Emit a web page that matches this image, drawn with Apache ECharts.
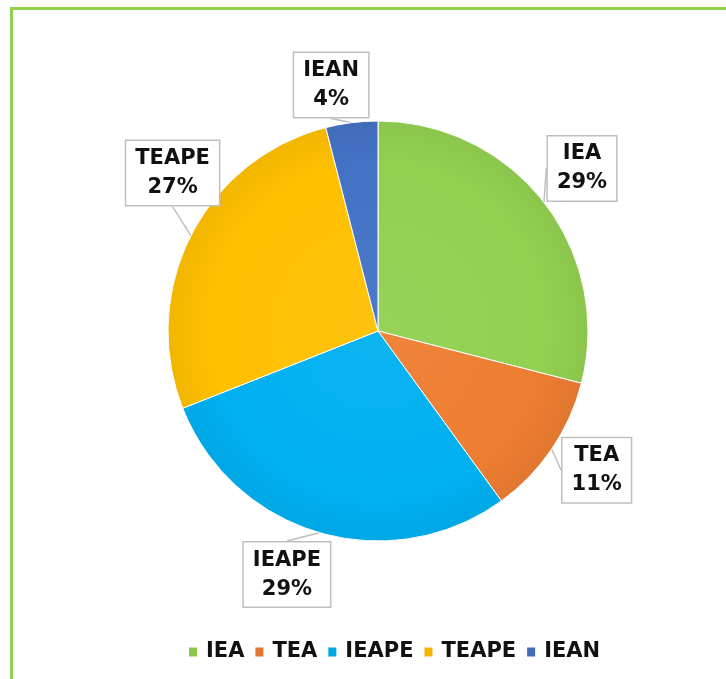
<!DOCTYPE html>
<html>
<head>
<meta charset="utf-8">
<script src="https://cdn.jsdelivr.net/npm/echarts@6/dist/echarts.min.js"></script>
<style>
html,body{margin:0;padding:0;background:#fff;}
#chart{width:726px;height:679px;}
</style>
</head>
<body>
<div id="chart"></div>
<script>
const categories = ['IEA', 'TEA', 'IEAPE', 'TEAPE', 'IEAN'];
const shares = [29, 11, 29, 27, 4];
const sliceColors = ['#92D050', '#ED7D31', '#00B0F0', '#FFC000', '#4472C4'];

// manual callout nudges (pixels), like moved callouts in the original
const labelNudge = [[-3, -2], [2, -8], [-18, -8], [28, -39], [-14, 14]];

const CX = 378, CY = 331, R = 210;

function shade(hex, f) {
  const n = parseInt(hex.slice(1), 16);
  let r = (n >> 16) & 255, g = (n >> 8) & 255, b = n & 255;
  const m = c => Math.max(0, Math.min(255, Math.round(f > 0 ? c + (255 - c) * f : c * (1 + f))));
  return 'rgb(' + m(r) + ',' + m(g) + ',' + m(b) + ')';
}

const pieData = categories.map((name, i) => ({
  name: name,
  value: shares[i],
  itemStyle: {
    color: {
      type: 'radial', x: CX, y: CY, r: R, global: true,
      colorStops: [
        { offset: 0, color: shade(sliceColors[i], 0.05) },
        { offset: 0.8, color: sliceColors[i] },
        { offset: 1, color: shade(sliceColors[i], -0.05) }
      ]
    }
  }
}));

const chart = echarts.init(document.getElementById('chart'), null, { renderer: 'canvas' });
const FONT = '"DejaVu Sans", "Liberation Sans", Arial, sans-serif';

chart.setOption({
  backgroundColor: '#ffffff',
  animation: false,
  color: sliceColors,
  graphic: [{
    type: 'rect',
    shape: { x: 11.5, y: 8.5, width: 740, height: 700 },
    style: { fill: 'none', stroke: '#92D050', lineWidth: 3 },
    silent: true
  }],
  legend: {
    data: categories,
    left: 187,
    top: 641,
    padding: 0,
    icon: 'rect',
    itemWidth: 10,
    itemHeight: 11,
    itemGap: 9,
    textStyle: {
      fontFamily: FONT,
      fontWeight: 'bold',
      fontSize: 21,
      color: '#111',
      lineHeight: 22,
      padding: [0, 0, 0, 3]
    }
  },
  series: [{
    type: 'pie',
    center: [CX, CY],
    radius: [0, R],
    startAngle: 90,
    clockwise: true,
    itemStyle: { borderColor: '#ffffff', borderWidth: 1 },
    data: pieData,
    label: {
      show: true,
      position: 'outside',
      formatter: '{b}\n{c}%',
      fontFamily: FONT,
      fontWeight: 'bold',
      fontSize: 21,
      lineHeight: 29,
      color: '#111',
      align: 'center',
      backgroundColor: '#ffffff',
      borderColor: '#bfbfbf',
      borderWidth: 1.5,
      padding: [4, 9, 2, 9]
    },
    labelLine: {
      show: true,
      length: 14,
      length2: 0,
      lineStyle: { color: '#bfbfbf', width: 1.5 }
    },
    labelLayout: function (p) {
      const pts = p.labelLinePoints;
      if (!pts) return {};
      const dx = pts[1][0] - pts[0][0], dy = pts[1][1] - pts[0][1];
      const len = Math.hypot(dx, dy) || 1;
      const D = 52;
      const nudge = labelNudge[p.dataIndex] || [0, 0];
      return {
        x: pts[0][0] + dx / len * D + nudge[0],
        y: pts[0][1] + dy / len * D + nudge[1],
        align: 'center',
        verticalAlign: 'middle'
      };
    },
    emphasis: { disabled: true }
  }]
});
</script>
</body>
</html>
